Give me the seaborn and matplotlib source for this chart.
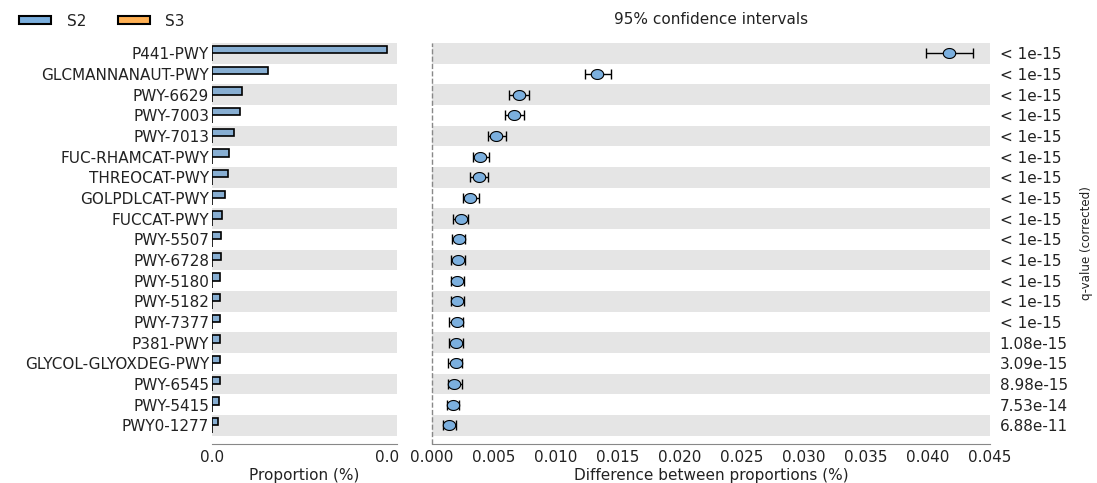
import numpy as np
import pandas as pd
import seaborn as sns
import matplotlib
matplotlib.use("Agg")
import matplotlib.pyplot as plt
from matplotlib.patches import Patch
from matplotlib.path import Path
from matplotlib.ticker import FormatStrFormatter

pathways = ["P441-PWY", "GLCMANNANAUT-PWY", "PWY-6629", "PWY-7003", "PWY-7013",
            "FUC-RHAMCAT-PWY", "THREOCAT-PWY", "GOLPDLCAT-PWY", "FUCCAT-PWY",
            "PWY-5507", "PWY-6728", "PWY-5180", "PWY-5182", "PWY-7377",
            "P381-PWY", "GLYCOL-GLYOXDEG-PWY", "PWY-6545", "PWY-5415", "PWY0-1277"]

# mean proportions (%) per group
prop_s2 = [0.0417, 0.0134, 0.0071, 0.0067, 0.0053, 0.0040, 0.0039, 0.0032, 0.0023,
           0.0022, 0.0021, 0.0020, 0.0020, 0.0020, 0.0019, 0.0019, 0.0018, 0.0017, 0.0014]
prop_s3 = [0.0] * len(pathways)

# difference between proportions and its 95% CI
diff = [0.0417, 0.0133, 0.0070, 0.0066, 0.0052, 0.0039, 0.0038, 0.0031, 0.0023,
        0.0022, 0.0021, 0.0020, 0.0020, 0.0020, 0.0019, 0.0019, 0.0018, 0.0017, 0.0014]
ci_low = [0.0398, 0.0123, 0.0062, 0.0059, 0.0045, 0.0033, 0.0031, 0.0025, 0.0017,
          0.0016, 0.0015, 0.0015, 0.0015, 0.0014, 0.0014, 0.0013, 0.0013, 0.0012, 0.0009]
ci_high = [0.0436, 0.0144, 0.0078, 0.0074, 0.0060, 0.0046, 0.0045, 0.0038, 0.0029,
           0.0027, 0.0027, 0.0026, 0.0026, 0.0025, 0.0025, 0.0024, 0.0024, 0.0022, 0.0019]

q_values = ["< 1e-15"] * 14 + ["1.08e-15", "3.09e-15", "8.98e-15", "7.53e-14", "6.88e-11"]

groups = ["S2", "S3"]
colors = {"S2": "#7bafde", "S3": "#ffb054"}

sns.set_style("white")
plt.rcParams["font.family"] = ["DejaVu Sans"]
plt.rcParams["font.size"] = 11

FS = 11
TXT = "#222222"
BAND = "#e5e5e5"
SPINE = "#888888"

n = len(pathways)
pos = np.arange(n)

df_bar = pd.DataFrame({
    "pathway": pathways * 2,
    "group": ["S2"] * n + ["S3"] * n,
    "proportion": prop_s2 + prop_s3,
})
df_diff = pd.DataFrame({"pathway": pathways, "pos": pos, "diff": diff,
                        "lo": ci_low, "hi": ci_high})

fig = plt.figure(figsize=(10.97, 4.83), dpi=100)
ax1 = fig.add_axes([212 / 1097, 1 - 444 / 483, 185 / 1097, 401 / 483])
ax2 = fig.add_axes([432 / 1097, 1 - 444 / 483, 558 / 1097, 401 / 483])

ylim = (n - 1 + 0.9, -0.5)

# alternating row shading
for ax in (ax1, ax2):
    for i in range(0, n, 2):
        ax.axhspan(i - 0.5, i + 0.5, color=BAND, zorder=0, lw=0)

# left panel: mean proportions per group
sns.barplot(data=df_bar, x="proportion", y="pathway", hue="group", order=pathways,
            hue_order=groups, palette=colors, orient="h", width=0.7,
            edgecolor="black", linewidth=1.2, errorbar=None, legend=False, ax=ax1)
pmax = max(prop_s2 + prop_s3)
ax1.set_xlim(0, pmax * 1.057)
ax1.set_ylim(*ylim)
ax1.set_xticks([0, pmax])
ax1.xaxis.set_major_formatter(FormatStrFormatter("%.1f"))
ax1.set_xlabel("Proportion (%)", fontsize=FS, color=TXT, labelpad=2)
ax1.set_ylabel("")
ax1.tick_params(axis="y", length=0, pad=2, labelsize=FS, labelcolor=TXT)
ax1.tick_params(axis="x", direction="in", length=4, color=SPINE, labelsize=FS,
                labelcolor=TXT, pad=4.5)
for s in ("top", "right", "left"):
    ax1.spines[s].set_visible(False)
ax1.spines["bottom"].set_color(SPINE)

# right panel: difference with 95% CI
ax2.errorbar(df_diff["diff"], df_diff["pos"],
             xerr=[df_diff["diff"] - df_diff["lo"], df_diff["hi"] - df_diff["diff"]],
             fmt="none", ecolor="black", elinewidth=1, capsize=3.6, capthick=1, zorder=2)
t = np.linspace(0, 2 * np.pi, 60)
ellipse = Path(np.column_stack([1.25 * np.cos(t), np.sin(t)]), closed=True)
sns.scatterplot(data=df_diff, x="diff", y="pos", marker=ellipse, s=80,
                color=colors["S2"], edgecolor="black", linewidth=0.8, zorder=3, ax=ax2)
ax2.axvline(0, ls="--", color=SPINE, lw=1, clip_on=False, zorder=1)
ax2.set_xlim(0, 0.045)
ax2.set_ylim(*ylim)
ax2.set_xticks(np.arange(0, 0.0451, 0.005))
ax2.xaxis.set_major_formatter(FormatStrFormatter("%.3f"))
ax2.set_yticks([])
ax2.set_xlabel("Difference between proportions (%)", fontsize=FS, color=TXT, labelpad=2)
ax2.set_ylabel("")
ax2.tick_params(axis="x", direction="in", length=4, color=SPINE, labelsize=FS,
                labelcolor=TXT, pad=4.5)
for s in ("top", "right", "left"):
    ax2.spines[s].set_visible(False)
ax2.spines["bottom"].set_color(SPINE)

# q-values on the right
ax3 = ax2.twinx()
ax3.set_ylim(*ylim)
ax3.set_yticks(pos)
ax3.set_yticklabels(q_values)
ax3.tick_params(axis="y", length=0, pad=7, labelsize=FS, labelcolor=TXT)
ax3.set_ylabel("q-value (corrected)", fontsize=8.6, color=TXT, labelpad=9)
for s in ax3.spines.values():
    s.set_visible(False)

fig.text((432 + 990) / 2 / 1097, 1 - 20 / 483, "95% confidence intervals",
         ha="center", va="center", fontsize=FS, color=TXT)

handles = [Patch(facecolor=colors[g], edgecolor="black", linewidth=1.5) for g in groups]
fig.legend(handles, groups, loc="center left", bbox_to_anchor=(0.005, 1 - 21 / 483),
           ncol=2, frameon=False, fontsize=FS, handlelength=2.1, handleheight=0.4,
           columnspacing=2.1, handletextpad=1.0, labelcolor=TXT)

fig.savefig("out.png", dpi=100)
